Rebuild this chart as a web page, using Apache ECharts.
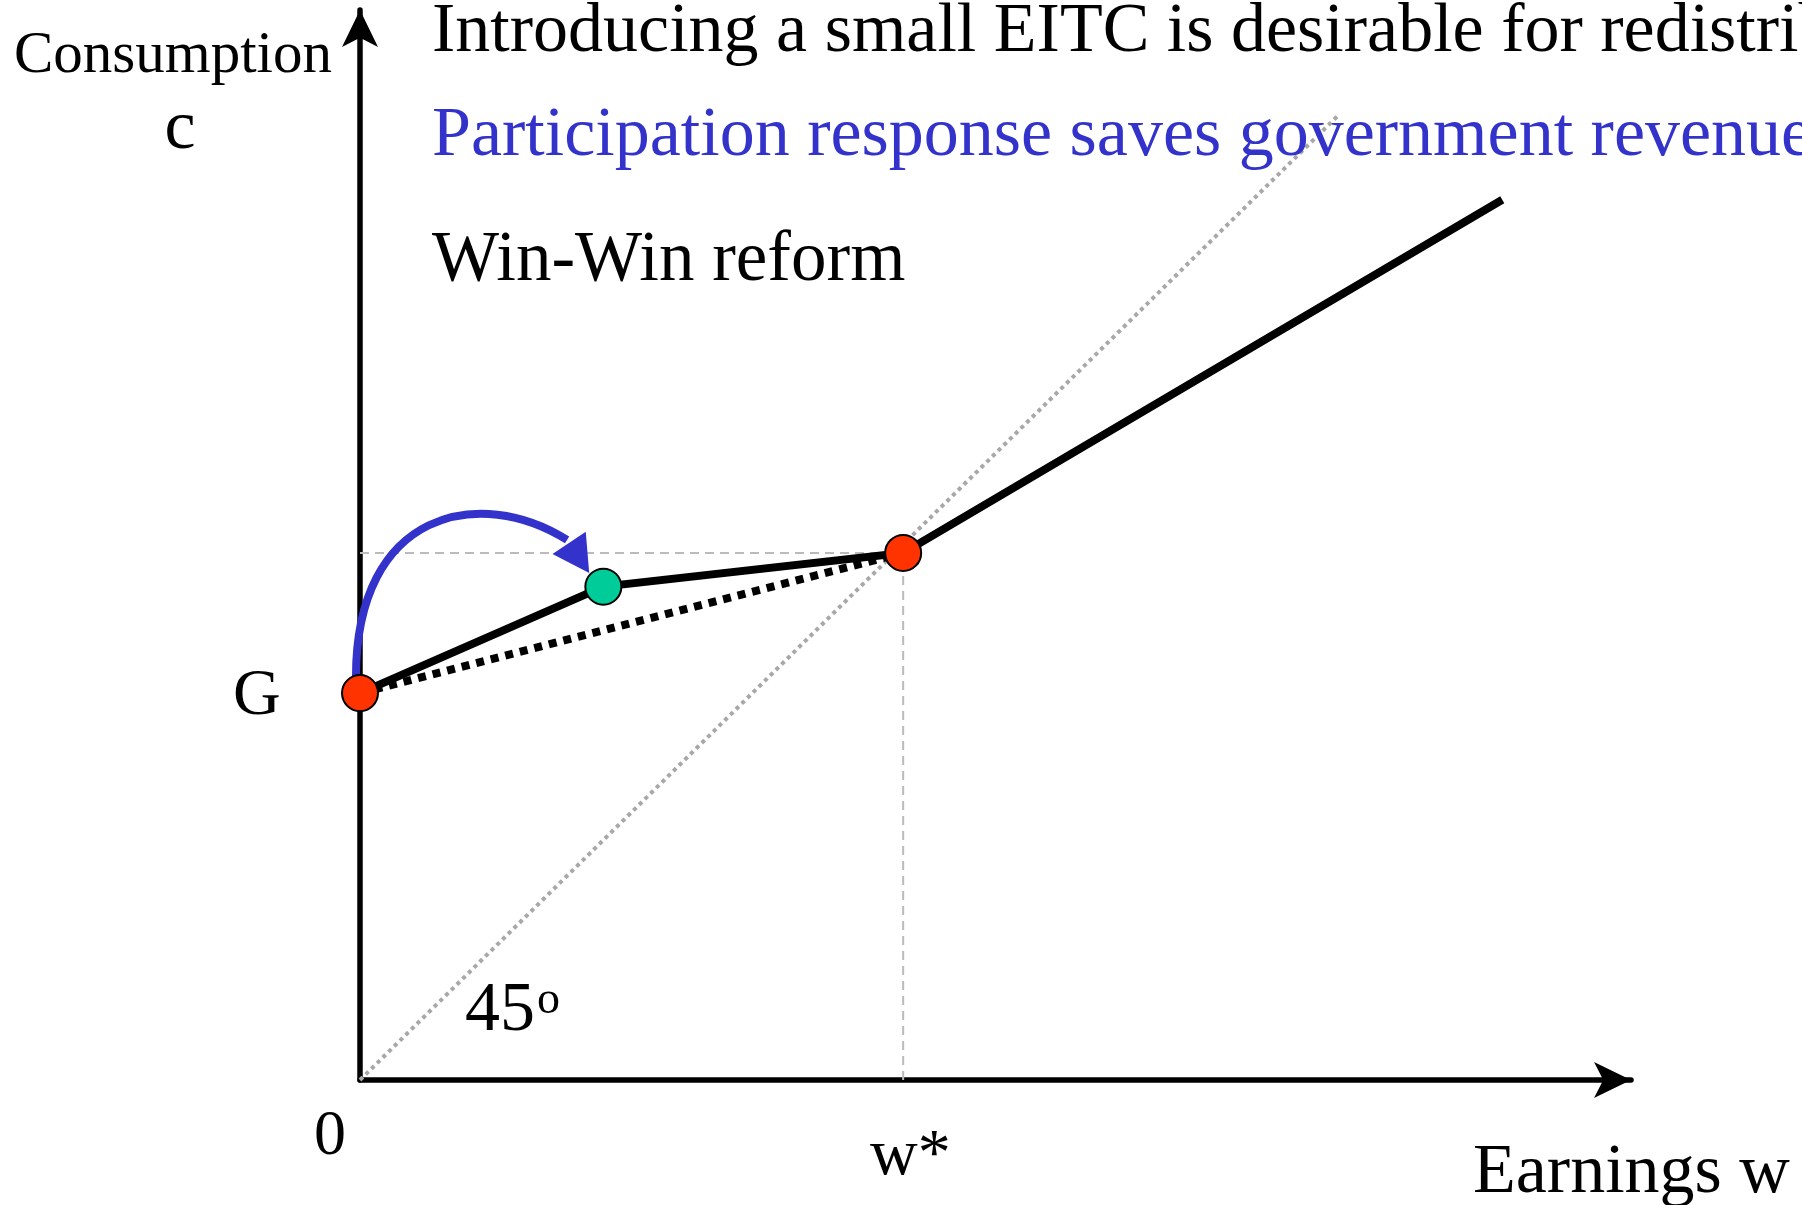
<!DOCTYPE html>
<html>
<head>
<meta charset="utf-8">
<script src="https://cdn.jsdelivr.net/npm/echarts@6/dist/echarts.min.js"></script>
<style>
html,body{margin:0;padding:0;background:#fff;}
#chart{width:1802px;height:1205px;}
</style>
</head>
<body>
<div id="chart"></div>
<script>
// ---- data (x = earnings w, y = consumption c; w* = 100) ----
const wStar = 100;
const xMax = 234;
const yMax = 203;
const eitcSchedule = [[0, 73.4], [44.8, 93.6], [100, 100], [210.3, 167.0]];
const oldSchedule = [[0, 73.4], [100, 100]];
const line45 = [[0, 0], [180.2, 183.1]];
const guideH = [[0, 100], [100, 100]];
const guideV = [[100, 0], [100, 100]];
const redPoints = [[0, 73.4], [100, 100]];
const greenPoints = [[44.8, 93.6]];
// participation arrow: start, control 1, control 2, arrow base, arrow tip
const arcPoints = [[-0.74, 76.5], [-0.74, 108.1], [22.1, 112.9], [38.5, 101.9], [42.2, 96.2]];

const titleLines = [
  'Introducing a small EITC is desirable for redistribution',
  'Participation response saves government revenue',
  'Win-Win reform'
];

const SERIF = '"Liberation Serif","Times New Roman",serif';
const BLUE = '#3333cc';

const chart = echarts.init(document.getElementById('chart'), null, {renderer: 'canvas'});

function txt(text, x, y, size, opts) {
  opts = opts || {};
  return {
    type: 'text', x: x, y: y, z: 100,
    style: {
      text: text, fontSize: size, fontFamily: SERIF,
      fill: opts.fill || '#000', align: opts.align || 'left', verticalAlign: 'middle'
    }
  };
}

const option = {
  animation: false,
  backgroundColor: '#fff',
  grid: {left: 360, right: 171, top: 10, bottom: 125, containLabel: false},
  xAxis: {
    type: 'value', min: 0, max: xMax,
    axisLine: {show: true, lineStyle: {color: '#000', width: 5.5}, symbol: ['none', 'arrow'], symbolSize: [27, 37]},
    axisTick: {show: false}, axisLabel: {show: false}, splitLine: {show: false}
  },
  yAxis: {
    type: 'value', min: 0, max: yMax,
    axisLine: {show: true, lineStyle: {color: '#000', width: 5.5}, symbol: ['none', 'arrow'], symbolSize: [27, 37]},
    axisTick: {show: false}, axisLabel: {show: false}, splitLine: {show: false}
  },
  series: [
    {type: 'line', data: guideH, symbol: 'none', z: 1, silent: true,
     lineStyle: {color: '#bbbbbb', width: 2, type: [9, 6]}},
    {type: 'line', data: guideV, symbol: 'none', z: 1, silent: true,
     lineStyle: {color: '#bbbbbb', width: 2, type: [9, 6]}},
    {type: 'line', data: line45, symbol: 'none', z: 2, silent: true,
     lineStyle: {color: '#a8a8a8', width: 4, type: [4, 4]}},
    {type: 'line', data: oldSchedule, symbol: 'none', z: 3, silent: true,
     lineStyle: {color: '#000', width: 8, type: [8, 7]}},
    {type: 'line', data: eitcSchedule, symbol: 'none', z: 4, silent: true,
     lineStyle: {color: '#000', width: 8, cap: 'butt', join: 'miter'}},
    {type: 'custom', data: arcPoints, z: 5, silent: true,
     renderItem: function (params, api) {
       if (params.dataIndex !== 0) return;
       const p = arcPoints.map(function (d) { return api.coord(d); });
       const tip = p[4], base = p[3];
       const dx = tip[0] - base[0], dy = tip[1] - base[1];
       const len = Math.sqrt(dx * dx + dy * dy);
       const nx = -dy / len, ny = dx / len, hw = 20;
       return {
         type: 'group',
         children: [
           {type: 'bezierCurve',
            shape: {x1: p[0][0], y1: p[0][1], cpx1: p[1][0], cpy1: p[1][1],
                    cpx2: p[2][0], cpy2: p[2][1], x2: base[0] - dx * 0.1, y2: base[1] - dy * 0.1},
            style: {stroke: BLUE, lineWidth: 8, fill: null}},
           {type: 'polygon',
            shape: {points: [[base[0] + nx * hw, base[1] + ny * hw], tip, [base[0] - nx * hw, base[1] - ny * hw]]},
            style: {fill: BLUE, stroke: null}}
         ]
       };
     }},
    {type: 'scatter', data: redPoints, z: 6, symbolSize: 36, silent: true,
     itemStyle: {color: '#ff3300', borderColor: '#000', borderWidth: 2, opacity: 1}},
    {type: 'scatter', data: greenPoints, z: 6, symbolSize: 36, silent: true,
     itemStyle: {color: '#00cc99', borderColor: '#000', borderWidth: 2, opacity: 1}}
  ],
  graphic: [
    txt(titleLines[0], 432, 33, 70),
    txt(titleLines[1], 432, 137, 70, {fill: BLUE}),
    txt(titleLines[2], 432, 261, 71),
    txt('Consumption', 14, 56, 59),
    txt('c', 180, 130, 70, {align: 'center'}),
    txt('G', 233, 697, 66),
    txt('0', 330, 1137, 64, {align: 'center'}),
    txt('w*', 870, 1157, 66),
    txt('Earnings w', 1473, 1174, 70),
    txt('45', 465, 1012, 70),
    txt('o', 537, 1001, 46)
  ]
};
chart.setOption(option);
</script>
</body>
</html>
